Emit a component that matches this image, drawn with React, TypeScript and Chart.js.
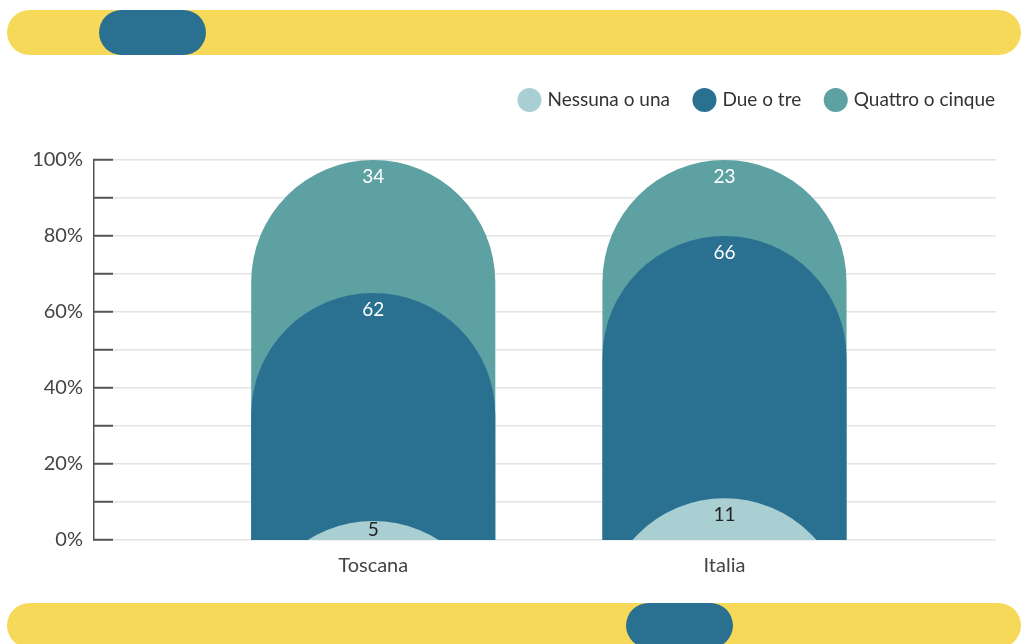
import React, { useEffect, useRef } from 'react';
import { Chart, registerables } from 'chart.js';

Chart.register(...registerables);

const categories = ['Toscana', 'Italia'];
const seriesNames = ['Nessuna o una', 'Due o tre', 'Quattro o cinque'];
const seriesColors = ['#a9cfd2', '#2a7191', '#5ea1a2'];
const labelColors = ['#222222', '#ffffff', '#ffffff'];

// numbers printed on the bars
const nessunaValues = [5, 11];
const dueValues = [62, 66];
const quattroValues = [34, 23];

// level (in %) reached by the top of each bar
const nessunaTop = [5, 11];
const dueTop = [65, 80];
const quattroTop = [100, 100];

const yMin = 0;
const yMax = 100;
const yStep = 10;
const yLabelStep = 20;

const labelSets = [nessunaValues, dueValues, quattroValues];
const topSets = [nessunaTop, dueTop, quattroTop];

const FONT = 'Lato, "Open Sans", sans-serif';

const barLabels = {
  id: 'barLabels',
  afterDatasetsDraw(chart: any) {
    const { ctx, chartArea } = chart;
    ctx.save();
    ctx.font = `19px ${FONT}`;
    ctx.textAlign = 'center';
    ctx.textBaseline = 'middle';
    chart.data.datasets.forEach((_ds: any, di: number) => {
      const meta = chart.getDatasetMeta(di);
      meta.data.forEach((el: any, i: number) => {
        const y = Math.min(el.y + 17, chartArea.bottom - 10);
        ctx.fillStyle = labelColors[di];
        ctx.fillText(String(labelSets[di][i]), el.x, y);
      });
    });
    ctx.restore();
  },
};

const legendGap = {
  id: 'legendGap',
  afterInit(chart: any) {
    const legend = chart.legend;
    if (!legend) return;
    const fit = legend.fit;
    legend.fit = function () {
      fit.call(this);
      this.height += 40.5;
    };
  },
};

function ChartView() {
  const ref = useRef<HTMLCanvasElement | null>(null);
  useEffect(() => {
    if (!ref.current) return;
    Chart.defaults.font.family = FONT;
    const datasets = seriesNames.map((name, si) => ({
      label: name,
      data: categories.map((_, i) => ({ x: i, y: topSets[si][i] })),
      backgroundColor: seriesColors[si],
      borderWidth: 0,
      borderRadius: 1000,
      base: -100,
      grouped: false,
      barPercentage: 0.695,
      categoryPercentage: 1,
      clip: { left: false, top: false, right: false, bottom: 0 },
    }));
    const chart = new Chart(ref.current, {
      type: 'bar',
      data: { datasets: datasets as any },
      options: {
        animation: false,
        responsive: false,
        maintainAspectRatio: false,
        layout: { padding: { top: 64.5, right: 1, bottom: 52, left: 0 } },
        plugins: {
          tooltip: { enabled: false },
          legend: {
            position: 'top',
            align: 'end',
            labels: {
              usePointStyle: true,
              pointStyle: 'circle',
              boxHeight: 17,
              boxWidth: 17,
              color: '#333333',
              padding: 26,
              font: { size: 19, family: FONT },
            },
          },
        },
        scales: {
          x: {
            type: 'linear',
            offset: false,
            min: -0.795,
            max: 1.773,
            grid: { display: false, drawTicks: false, offset: false },
            border: { display: false },
            afterBuildTicks: (s: any) => {
              s.ticks = categories.map((_, i) => ({ value: i }));
            },
            ticks: {
              padding: 14,
              color: '#444444',
              font: { size: 20, family: FONT },
              callback: (v: any) => categories[Number(v)] ?? '',
            },
          },
          y: {
            min: yMin,
            max: yMax,
            afterFit: (s: any) => {
              s.width = 94;
            },
            grid: {
              color: '#e4e4e4',
              lineWidth: 1.5,
              tickColor: '#555555',
              tickWidth: 2,
              tickLength: -19,
            },
            border: { display: true, color: '#555555', width: 1.5 },
            ticks: {
              stepSize: yStep,
              padding: 30,
              color: '#444444',
              font: { size: 20, family: FONT },
              callback: (v: any) => (Number(v) % yLabelStep === 0 ? `${v}%` : ''),
            },
          },
          yRight: {
            type: 'linear',
            position: 'right',
            display: true,
            grid: { display: false, drawTicks: false },
            border: { display: false },
            ticks: { display: false },
            afterFit: (s: any) => {
              s.width = 25;
            },
          },
        },
      } as any,
      plugins: [barLabels, legendGap],
    });
    return () => chart.destroy();
  }, []);
  return <canvas ref={ref} width={1022} height={644} style={{ position: 'absolute', left: 0, top: 0, width: 1022, height: 644 }} />;
}

const band: React.CSSProperties = {
  position: 'absolute',
  left: 7,
  width: 1014,
  height: 45,
  borderRadius: 22.5,
  background: '#f7d959',
};
const pill: React.CSSProperties = {
  position: 'absolute',
  height: 45,
  borderRadius: 22.5,
  background: '#2a7191',
};

export default function App() {
  return (
    <div style={{ position: 'fixed', left: 0, top: 0, width: 1022, height: 644, overflow: 'hidden', background: '#ffffff' }}>
      <ChartView />
      <div style={{ ...band, top: 10 }} />
      <div style={{ ...pill, top: 10, left: 99, width: 107 }} />
      <div style={{ ...band, top: 603 }} />
      <div style={{ ...pill, top: 603, left: 626, width: 107 }} />
    </div>
  );
}
